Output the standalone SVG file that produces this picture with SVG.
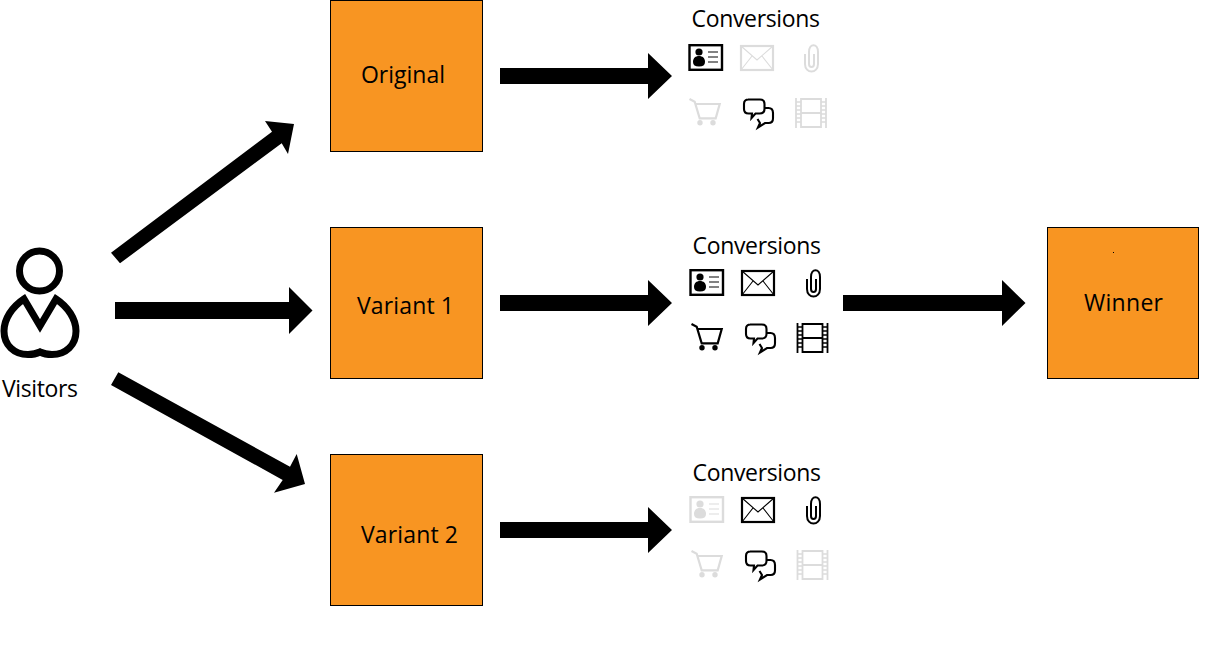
<svg xmlns="http://www.w3.org/2000/svg" width="1210" height="657" viewBox="0 0 1210 657">
<style>
text{font-family:"Open Sans","Noto Sans","Liberation Sans",sans-serif;font-size:23px;fill:#000}
.box{fill:#f89522;stroke:#000;stroke-width:1}
.on{color:#000}.off{color:#dcdcdc}
.ln{fill:none;stroke:currentColor}
.fl{fill:currentColor;stroke:none}
.ar{fill:#000}
</style>
<defs>
<symbol id="card" overflow="visible"><rect class="ln" x="689.500" y="45.200" width="32.500" height="24.600" stroke-width="2.400"/><circle class="fl" cx="699" cy="52" r="3.600"/><path class="fl" d="M693 62c0-4 2.500-6 6-6s6 2 6 6c0 3-2 4.500-6 4.500s-6-1.500-6-4.500z"/><path class="ln" d="M708 52h10M708 57h10M708 62h10" stroke-width="1.600" opacity=".65"/></symbol>
<symbol id="mail" overflow="visible"><rect class="ln" x="741" y="46" width="32" height="24" stroke-width="2.200"/><path class="ln" d="M741 46l16 14 16-14M741 70l11-14M773 70l-11-14" stroke-width="1.100"/></symbol>
<symbol id="clip" overflow="visible"><path class="ln" d="M805 54v10c0 10 13 10 13 0V52c0-9-9-9-9 0v12c0 4 5 4 5 0V54" stroke-width="2"/></symbol>
<symbol id="cart" overflow="visible"><path class="ln" d="M689.500 99l5.200 2.700 5 16.600h16l4-14.300h-25" stroke-width="2.200"/><circle class="fl" cx="700" cy="122.700" r="2.700"/><circle class="fl" cx="713" cy="122.700" r="2.700"/></symbol>
<symbol id="chat" overflow="visible"><path class="ln" d="M748 99.500h12c3 0 4.500 2 4.500 4.500v5c0 3-2 4.500-5 4.500h-4l-4 4.500 .5-4.500h-3.500c-3 0-4.500-2-4.500-4.500v-5c0-3 1.500-4.500 4.500-4.500zM764.500 108h4c3 0 4.500 2 4.500 5v5.500c0 3-1.500 4.500-4.500 4.500h-3.500l-7 4.500 2-4.500-2.500-4" stroke-width="2.100"/></symbol>
<symbol id="film" overflow="visible"><path class="ln" d="M796 98v30M801 98v30M821 98v30M826 98v30M801 99h20M801 113h20M801 127h20" stroke-width="1.800"/><path class="ln" d="M796 102h5M796 106h5M796 110h5M796 114h5M796 118h5M796 122h5M821 102h5M821 106h5M821 110h5M821 114h5M821 118h5M821 122h5" stroke-width="1.600"/></symbol>
<path id="hArrow" d="M0-8H148V-23L172 0 148 23V8H0z"/>
</defs>

<g id="connectors" class="ar">
<path id="edge-visitors-original" d="M111 252.700L272 131.700 265 121 294 124 288 154 281.700 143.300 120 263.300z"/>
<path id="edge-visitors-variant1" d="M115 302H289V287L312.500 310.500 289 334V319H115z"/>
<path id="edge-visitors-variant2" d="M118.300 372.300L290 466.700 296.700 454 305 484 274 492.700 282.700 480 111 385z"/>
<use id="edge-original-conv" href="#hArrow" x="500" y="76"/>
<use id="edge-variant1-conv" href="#hArrow" x="500" y="303"/>
<use id="edge-variant2-conv" href="#hArrow" x="500" y="530"/>
<path id="edge-conv-winner" d="M843 295H1002V280L1025.500 303 1002 326V311H843z"/>
</g>

<g id="visitors">
<circle cx="39.500" cy="271" r="20" fill="none" stroke="#000" stroke-width="7"/>
<path d="M24 299C12 307 4 319 4 331C4 345 14 354.500 28 354.500C33 354.500 37 353.500 40 352C43 353.500 47 354.500 52 354.500C66 354.500 76 345 76 331C76 319 68 307 56 299L40 326z" fill="none" stroke="#000" stroke-width="7"/>
<text x="2" y="397" textLength="76">Visitors</text>
</g>

<g id="original">
<rect class="box" x="330.500" y="0.500" width="152" height="151"/>
<text x="361" y="83" textLength="84">Original</text>
</g>
<g id="variant1">
<rect class="box" x="330.500" y="227.500" width="152" height="151"/>
<text x="357" y="314" textLength="97">Variant 1</text>
</g>
<g id="variant2">
<rect class="box" x="330.500" y="454.500" width="152" height="151"/>
<text x="361" y="543" textLength="97">Variant 2</text>
</g>
<g id="winner">
<rect class="box" x="1047.500" y="227.500" width="151" height="151"/>
<rect x="1113" y="252" width="1" height="1" fill="#000"/>
<text x="1084" y="311" textLength="79">Winner</text>
</g>

<g id="conversions-original">
<text x="691.500" y="26.500" textLength="128.500">Conversions</text>
<use href="#card" class="on"/><use href="#mail" class="off"/><use href="#clip" class="off"/>
<use href="#cart" class="off"/><use href="#chat" class="on"/><use href="#film" class="off"/>
</g>
<g id="conversions-variant1">
<text x="692.500" y="253.500" textLength="128.500">Conversions</text>
<use href="#card" class="on" x="1" y="225"/><use href="#mail" class="on" x="1" y="225"/><use href="#clip" class="on" x="2" y="225"/>
<use href="#cart" class="on" x="2" y="225"/><use href="#chat" class="on" x="2" y="225"/><use href="#film" class="on" x="1.500" y="225"/>
</g>
<g id="conversions-variant2">
<text x="692.500" y="480.500" textLength="128.500">Conversions</text>
<use href="#card" class="off" x="1" y="452"/><use href="#mail" class="on" x="1" y="452"/><use href="#clip" class="on" x="2" y="452"/>
<use href="#cart" class="off" x="2" y="452"/><use href="#chat" class="on" x="2" y="452"/><use href="#film" class="off" x="1.500" y="452"/>
</g>
</svg>
